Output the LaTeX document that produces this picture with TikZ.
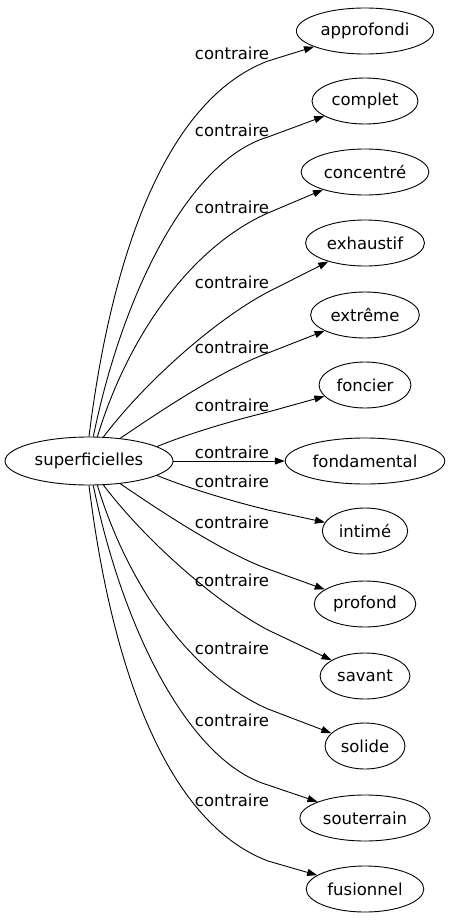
\documentclass[tikz,border=0pt]{standalone}
\usepackage{fontspec}
\setmainfont{DejaVu Sans}
\usetikzlibrary{shapes.geometric,arrows.meta}
\begin{document}
\begin{tikzpicture}[x=1pt,y=-1pt,
  every node/.style={font=\fontsize{16.5}{20}\selectfont},
  src/.style={ellipse,draw,line width=0.9pt,minimum width=168pt,minimum height=48pt,inner sep=0pt},
  tgt/.style={ellipse,draw,line width=0.9pt,inner xsep=4pt,minimum height=46pt},
  lbl/.style={inner sep=0pt},
  edge/.style={line width=0.9pt,-{Triangle[length=10pt,width=7pt]}}]
\useasboundingbox[fill=white] (0,0) rectangle (450,923);

\node[src] (s) at (89,461) {superficielles};

\node[tgt] (t1) at (365,31) {approfondi};
\node[tgt] (t2) at (365,101) {complet};
\node[tgt] (t3) at (365,172) {concentré};
\node[tgt] (t4) at (365,243) {exhaustif};
\node[tgt] (t5) at (365,315) {extrême};
\node[tgt] (t6) at (365,385) {foncier};
\node[tgt] (t7) at (365,461) {fondamental};
\node[tgt] (t8) at (365,531) {intimé};
\node[tgt] (t9) at (365,604) {profond};
\node[tgt] (t10) at (365,676) {savant};
\node[tgt] (t11) at (365,746) {solide};
\node[tgt] (t12) at (365,818) {souterrain};
\node[tgt] (t13) at (365,889) {fusionnel};

\node[lbl] (l1) at (232,53) {contraire};
\node[lbl] (l2) at (232,130) {contraire};
\node[lbl] (l3) at (232,207) {contraire};
\node[lbl] (l4) at (232,282) {contraire};
\node[lbl] (l5) at (232,347) {contraire};
\node[lbl] (l6) at (232,405) {contraire};
\node[lbl] (l7) at (232,452) {contraire};
\node[lbl] (l8) at (232,481) {contraire};
\node[lbl] (l9) at (232,522) {contraire};
\node[lbl] (l10) at (232,580) {contraire};
\node[lbl] (l11) at (232,648) {contraire};
\node[lbl] (l12) at (232,720) {contraire};
\node[lbl] (l13) at (232,800) {contraire};

\draw[edge] (s.90) .. controls (111,258) and (165,100) .. (268,61) -- (t1);
\draw[edge] (s.80.5) .. controls (123,291) and (190,160) .. (268,137) -- (t2);
\draw[edge] (s.71) .. controls (130,330) and (195,245) .. (268,213) -- (t3);
\draw[edge] (s.59) .. controls (145,382) and (215,320) .. (268,292) -- (t4);
\draw[edge] (s.36.7) .. controls (153,416) and (221,370) .. (268,353) -- (t5);
\draw[edge] (s.12.7) .. controls (190,433) and (235,420) .. (268,412) -- (t6);
\draw[edge] (s.east) -- (t7.west);
\draw[edge] (s.-12.7) .. controls (190,489) and (235,502) .. (268,510) -- (t8);
\draw[edge] (s.-36.7) .. controls (153,506) and (221,552) .. (268,569) -- (t9);
\draw[edge] (s.-59) .. controls (145,540) and (215,602) .. (268,630) -- (t10);
\draw[edge] (s.-71) .. controls (130,592) and (195,677) .. (268,709) -- (t11);
\draw[edge] (s.-80.5) .. controls (123,631) and (190,762) .. (268,785) -- (t12);
\draw[edge] (s.-90) .. controls (111,664) and (165,822) .. (268,861) -- (t13);
\end{tikzpicture}
\end{document}
